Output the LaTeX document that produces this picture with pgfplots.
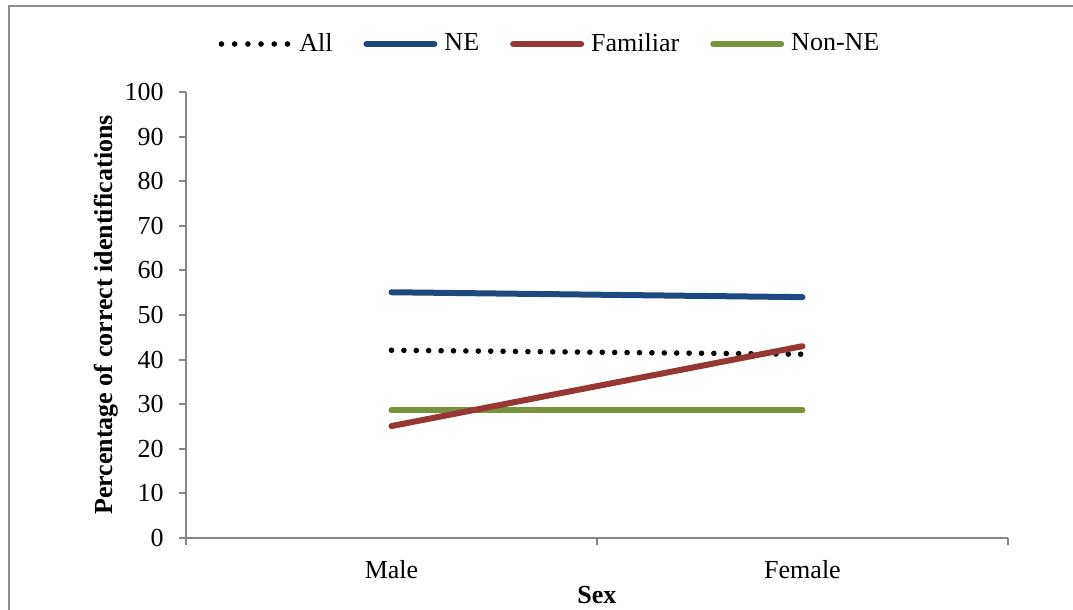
\documentclass[border=0pt]{standalone}
\usepackage{fontspec}
\setmainfont{Liberation Serif}
\usepackage{pgfplots}
\pgfplotsset{compat=1.18}

\definecolor{neblue}{HTML}{1F497D}
\definecolor{famred}{HTML}{953735}
\definecolor{nongreen}{HTML}{77933C}
\definecolor{axisgray}{HTML}{868686}
\definecolor{framegray}{HTML}{8C8C8C}

% percentage of correct identifications by sex of the face
\pgfplotstableread{
x  all   ne    fam   non
0  42.1  55.1  25.1  28.6
1  41.2  54.0  43.0  28.6
}\idtable

\begin{document}
\fontsize{13}{15.6}\selectfont
\begin{tikzpicture}
\path[use as bounding box, clip] (-93pt,-36pt) rectangle (443.5pt,269pt);
\draw[framegray, line width=1pt] (-88.5pt,-80pt) rectangle (480pt,266pt);
\begin{axis}[
  scale only axis,
  width=411pt, height=223pt,
  xmin=-0.5, xmax=1.5,
  ymin=0, ymax=100,
  axis x line=bottom, axis y line=left,
  axis line style={axisgray, line width=1pt, -},
  every tick/.style={axisgray, line width=1pt},
  tick align=outside,
  major tick length=3.5pt,
  xtick={-0.5,0.5,1.5}, xticklabels={},
  extra x ticks={0,1},
  extra x tick labels={Male,Female},
  extra x tick style={major tick length=0pt, major tick style={draw=none}},
  xticklabel style={anchor=base, inner sep=0pt, yshift=-20.5pt},
  ytick={0,10,...,100},
  yticklabel style={anchor=east, inner sep=0pt, xshift=-7.5pt},
  /pgf/number format/assume math mode=true,
  xlabel={Sex},
  ylabel={Percentage of correct identifications},
  xlabel style={font=\bfseries, at={(axis description cs:0.5,0)}, anchor=base, yshift=-33pt},
  ylabel style={font=\bfseries, at={(axis description cs:-0.0888,0.5)}, anchor=base, rotate=0},
  legend columns=4,
  legend style={draw=none, fill=none, at={(rel axis cs:0.4416,1.1076)}, anchor=center,
    nodes={inner sep=0pt},
    /tikz/every odd column/.append style={column sep=3.5pt},
    /tikz/every even column/.append style={column sep=15.5pt}},
  legend image code/.code={\draw[#1] (0pt,0pt) -- (34pt,0pt);},
]
% legend entries in their listed order
\addlegendimage{black, line width=2.8pt, line cap=round, dash pattern=on 0pt off 6.6pt}
\addlegendentry{All}
\addlegendimage{neblue, line width=3pt, line cap=round}
\addlegendentry{NE}
\addlegendimage{famred, line width=3pt, line cap=round}
\addlegendentry{Familiar}
\addlegendimage{nongreen, line width=3pt, line cap=round}
\addlegendentry{Non-NE}
% series, Familiar drawn last so it lies on top
\addplot[forget plot, black, line width=2.8pt, line cap=round, dash pattern=on 0pt off 6.2pt] table[x=x, y=all] {\idtable};
\addplot[forget plot, neblue, line width=3pt, line cap=round] table[x=x, y=ne] {\idtable};
\addplot[forget plot, nongreen, line width=3pt, line cap=round] table[x=x, y=non] {\idtable};
\addplot[forget plot, famred, line width=3pt, line cap=round] table[x=x, y=fam] {\idtable};
\end{axis}
\end{tikzpicture}
\end{document}
